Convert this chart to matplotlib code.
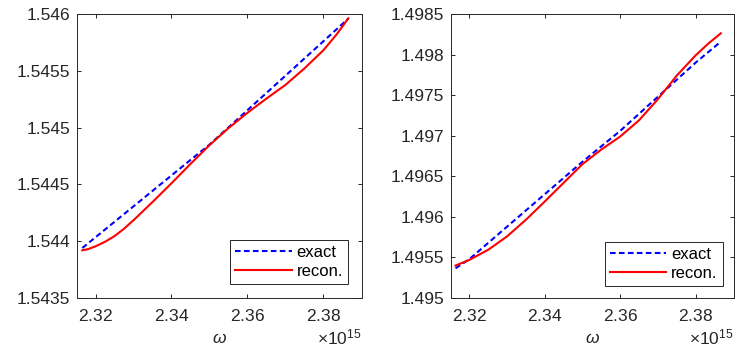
import numpy as np
import matplotlib.pyplot as plt
from matplotlib.ticker import ScalarFormatter

plt.rcParams['font.family'] = ['Liberation Sans', 'DejaVu Sans']
plt.rcParams['mathtext.fontset'] = 'custom'
plt.rcParams['mathtext.rm'] = 'Liberation Sans'
plt.rcParams['mathtext.it'] = 'Liberation Sans:italic'

# ---------------- data (omega in units of 1e15) ----------------
# left panel
w_exact_l = [2.3165, 2.325, 2.335, 2.345, 2.350, 2.360, 2.370, 2.380, 2.3866]
n_exact_l = [1.543940, 1.544171, 1.544443, 1.544715, 1.544850, 1.545153, 1.545456,
             1.545759, 1.545960]
w_recon_l = [2.3165, 2.318, 2.320, 2.3225, 2.325, 2.3275, 2.330, 2.335, 2.340,
             2.345, 2.350, 2.355, 2.360, 2.365, 2.370, 2.375, 2.380, 2.3835, 2.3866]
n_recon_l = [1.543920, 1.543930, 1.543955, 1.543995, 1.544045, 1.544110, 1.544185,
             1.544345, 1.544510, 1.544680, 1.544845, 1.544995, 1.545130, 1.545255,
             1.545375, 1.545520, 1.545680, 1.545820, 1.545962]

# right panel
w_exact_r = [2.3163, 2.320, 2.330, 2.340, 2.350, 2.360, 2.370, 2.380, 2.3867]
n_exact_r = [1.495366, 1.495480, 1.495880, 1.496280, 1.496680, 1.497060, 1.497480,
             1.497900, 1.498159]
w_recon_r = [2.3163, 2.320, 2.325, 2.330, 2.335, 2.340, 2.345, 2.350, 2.355,
             2.360, 2.365, 2.370, 2.375, 2.380, 2.3835, 2.3867]
n_recon_r = [1.495400, 1.495470, 1.495595, 1.495760, 1.495965, 1.496190, 1.496420,
             1.496650, 1.496830, 1.496990, 1.497190, 1.497450, 1.497740, 1.497990,
             1.498140, 1.498262]

xticks = [2.32e15, 2.34e15, 2.36e15, 2.38e15]
yticks_l = [1.5435, 1.544, 1.5445, 1.545, 1.5455, 1.546]
ytick_labels_l = ['1.5435', '1.544', '1.5445', '1.545', '1.5455', '1.546']
yticks_r = [1.495, 1.4955, 1.496, 1.4965, 1.497, 1.4975, 1.498, 1.4985]
ytick_labels_r = ['1.495', '1.4955', '1.496', '1.4965', '1.497', '1.4975', '1.498', '1.4985']

axis_col = '#262626'
fs = 12.5

fig = plt.figure(figsize=(7.48, 3.63), dpi=100)
ax_l = fig.add_axes([77 / 748, 65 / 363, 285 / 748, 284 / 363])
ax_r = fig.add_axes([451 / 748, 65 / 363, 283 / 748, 284 / 363])

panels = [
    (ax_l, w_exact_l, n_exact_l, w_recon_l, n_recon_l, yticks_l, ytick_labels_l,
     (1.5435, 1.546), (0.951, 0.049)),
    (ax_r, w_exact_r, n_exact_r, w_recon_r, n_recon_r, yticks_r, ytick_labels_r,
     (1.495, 1.4985), (0.960, 0.043)),
]

for ax, we, ne, wr, nr, yt, ytl, ylim, leg_pos in panels:
    ax.plot(np.array(we) * 1e15, ne, color='blue', lw=1.5, ls='--', dashes=(2.7, 1.6),
            label='exact')
    ax.plot(np.array(wr) * 1e15, nr, color='red', lw=1.5, label='recon.')
    ax.set_xlim(2.3151e15, 2.3902e15)
    ax.set_ylim(*ylim)
    ax.set_xticks(xticks)
    ax.xaxis.set_major_formatter(ScalarFormatter(useMathText=True))
    ax.set_yticks(yt)
    ax.set_yticklabels(ytl)
    ax.tick_params(direction='in', top=True, right=True, length=3, width=0.7,
                   colors=axis_col, labelsize=fs)
    ax.tick_params(axis='x', pad=7)
    ax.tick_params(axis='y', pad=5)
    ax.xaxis.get_offset_text().set_fontsize(fs)
    ax.xaxis.get_offset_text().set_color(axis_col)
    for s in ax.spines.values():
        s.set_color(axis_col)
        s.set_linewidth(0.7)
    ax.set_xlabel(r'$\omega$', fontsize=fs, color=axis_col, labelpad=5)
    leg = ax.legend(loc='lower right', bbox_to_anchor=leg_pos, borderaxespad=0,
                    fancybox=False, framealpha=1, edgecolor=axis_col, fontsize=12,
                    handlelength=3.4, handletextpad=0.3, borderpad=0.3,
                    labelspacing=0.25)
    leg.get_frame().set_linewidth(0.7)

fig.savefig('out.png', dpi=100)
